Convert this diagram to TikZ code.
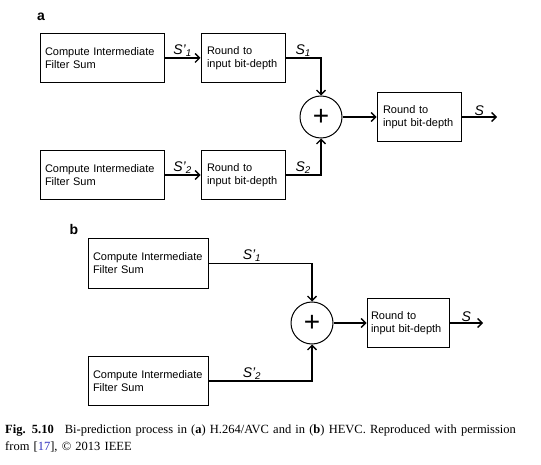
\documentclass[tikz,border=0pt]{standalone}
\usepackage{fontspec}
\setmainfont{Liberation Serif}
\setsansfont{Liberation Sans}
\usetikzlibrary{positioning,arrows.meta}
\definecolor{refblue}{RGB}{50,50,190}
\newcommand{\sgp}[1]{S'\textsubscript{#1}}
\newcommand{\sgn}[1]{S\textsubscript{#1}}

\begin{document}
\begin{tikzpicture}[x=1pt,y=-1pt,
    arr/.style={%
      line width=1.3pt,
      -{Straight Barb[length=4.5pt,width=9pt]},
    },
  ]

\tikzstyle{blk} = [rectangle, draw=black, line width=1pt, inner ysep=0pt, minimum height=49pt, align=left, font=\sffamily\fontsize{11}{13}\selectfont]

\tikzstyle{calc} = [blk, inner xsep=5pt, text width=114pt]

\tikzstyle{rnd} = [blk, inner xsep=6pt, text width=72pt]

\tikzstyle{sum} = [circle, draw=black, line width=1pt, minimum size=42pt, inner sep=0pt, font=\sffamily\fontsize{28}{28}\selectfont]

\tikzstyle{sig} = [inner sep=1pt, font=\sffamily\itshape\fontsize{14}{14}\selectfont]

\tikzstyle{part} = [font=\sffamily\bfseries\fontsize{14}{14}\selectfont]

    \useasboundingbox (0,0) rectangle (541,465);

    % (a) H.264/AVC
    \node [part] (lbla) at (41,17) {a};
    \node [calc] (ca1) at (102,58) {Compute Intermediate\\Filter Sum};
    \node [rnd, right=36pt of ca1] (ra1) {Round to\\input bit-depth};
    \node [calc] (ca2) at (102,175) {Compute Intermediate\\Filter Sum};
    \node [rnd, right=36pt of ca2] (ra2) {Round to\\input bit-depth};
    \node [sum] (suma) at (321,117) {+};
    \node [rnd] (ra3) at (419,117) {Round to\\input bit-depth};
    \coordinate (outa) at (497,117);

    \draw [arr] (ca1) -- (ra1) node [sig, above, midway] {\sgp{1}};
    \draw [arr] (ca2) -- (ra2) node [sig, above, midway] {\sgp{2}};
    \draw [arr] (ra1) -| (suma) node [sig, above, pos=0.25] {\sgn{1}};
    \draw [arr] (ra2) -| (suma) node [sig, above, pos=0.25] {\sgn{2}};
    \draw [arr] (suma) -- (ra3);
    \draw [arr] (ra3) -- (outa) node [sig, above, midway] {S};

    % (b) HEVC
    \node [part] (lblb) at (74,229) {b};
    \node [calc, text width=110pt] (cb1) at (148,263.5) {Compute Intermediate\\Filter Sum};
    \node [calc, text width=110pt] (cb2) at (148,381) {Compute Intermediate\\Filter Sum};
    \node [sum] (sumb) at (312,323) {+};
    \node [rnd, inner xsep=4pt, text width=74pt] (rb) at (408,323) {Round to\\input bit-depth};
    \coordinate (outb) at (483,323);

    \draw [arr] (cb1) -| (sumb) node [sig, above, pos=0.21] {\sgp{1}};
    \draw [arr] (cb2) -| (sumb) node [sig, above, pos=0.21] {\sgp{2}};
    \draw [arr] (sumb) -- (rb);
    \draw [arr] (rb) -- (outb) node [sig, above, midway] {S};

    % caption
    \node [anchor=base west, inner sep=0pt, text width=535pt, align=left, font=\fontsize{12.5}{17}\selectfont] (cap) at (5,433)
      {\textbf{Fig. 5.10}\hspace{11pt}Bi-prediction process in (\textbf{a}) H.264/AVC and in (\textbf{b}) HEVC. Reproduced with permission\\from [\textcolor{refblue}{17}], © 2013 IEEE};
\end{tikzpicture}
\end{document}
